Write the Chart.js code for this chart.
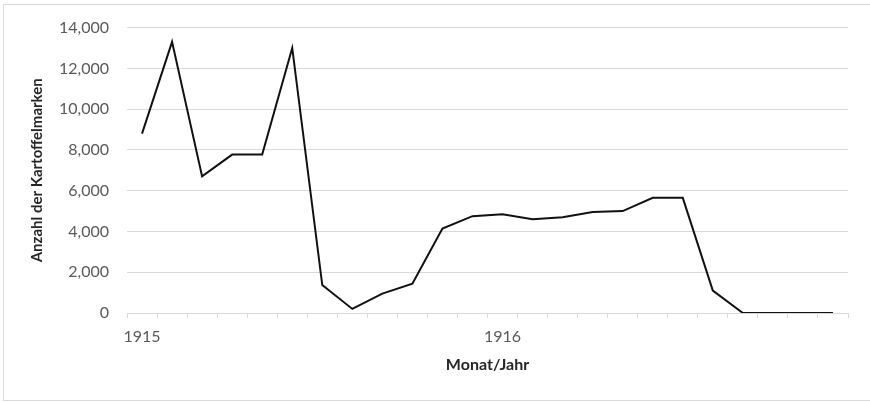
<!DOCTYPE html>
<html>
<head>
<meta charset="utf-8">
<script src="https://cdn.jsdelivr.net/npm/chart.js@4/dist/chart.umd.min.js"></script>
<style>
  html, body { margin: 0; padding: 0; background: #ffffff; }
  #wrap { position: relative; width: 870px; height: 402px; }
</style>
</head>
<body>
<div id="wrap"><canvas id="chart" width="870" height="402"></canvas></div>
<script>
// Monthly counts, Jan 1915 - Dec 1916
const months = [
    '1915-01', '1915-02', '1915-03', '1915-04', '1915-05', '1915-06',
    '1915-07', '1915-08', '1915-09', '1915-10', '1915-11', '1915-12',
    '1916-01', '1916-02', '1916-03', '1916-04', '1916-05', '1916-06',
    '1916-07', '1916-08', '1916-09', '1916-10', '1916-11', '1916-12'
];
const kartoffelmarken = [
    8800, 13300, 6700, 7770, 7780, 13000,
    1370, 200, 950, 1440, 4140, 4750,
    4840, 4600, 4700, 4950, 5000, 5650,
    5650, 1100, 0, 0, 0, 0
];
// only the first month of each year gets a label
const yearLabels = { 0: '1915', 12: '1916' };
const yTicks = [0, 2000, 4000, 6000, 8000, 10000, 12000, 14000];

const FONT = "Lato, 'Open Sans', sans-serif";
const gridColor = '#d9d9d9';
const textColor = '#595959';

// light frame around the whole chart
const framePlugin = {
    id: 'frame',
    beforeDraw(chart) {
        const ctx = chart.ctx;
        ctx.save();
        ctx.fillStyle = '#ffffff';
        ctx.fillRect(0, 0, chart.width, chart.height);
        ctx.strokeStyle = gridColor;
        ctx.lineWidth = 1;
        ctx.strokeRect(3.5, 4.5, 870, 396);
        ctx.restore();
    }
};

new Chart(document.getElementById('chart'), {
    type: 'line',
    data: {
        labels: months,
        datasets: [{
            data: kartoffelmarken,
            borderColor: '#111111',
            borderWidth: 2,
            pointRadius: 0,
            tension: 0,
            fill: false
        }]
    },
    options: {
        responsive: false,
        animation: false,
        layout: { padding: { left: 0, right: 22, top: 20, bottom: 0 } },
        plugins: {
            legend: { display: false },
            tooltip: { enabled: false }
        },
        scales: {
            x: {
                type: 'category',
                offset: true,
                afterFit(scale) { scale.height = 89; },
                grid: {
                    offset: true,
                    drawOnChartArea: false,
                    drawTicks: true,
                    tickLength: 5,
                    color: gridColor
                },
                border: { display: true, color: gridColor, width: 1 },
                ticks: {
                    autoSkip: false,
                    maxRotation: 0,
                    padding: 9,
                    color: textColor,
                    font: { family: FONT, size: 16 },
                    callback: (val, i) => yearLabels[i] || ''
                },
                title: {
                    display: true,
                    text: 'Monat/Jahr',
                    color: '#262626',
                    font: { family: FONT, size: 16, weight: 'bold' },
                    padding: { top: 0, bottom: 28 }
                }
            },
            y: {
                min: 0,
                max: 14000,
                afterFit(scale) { scale.width = 127; },
                afterBuildTicks(scale) { scale.ticks = yTicks.map(v => ({ value: v })); },
                grid: {
                    color: gridColor,
                    lineWidth: 1,
                    drawTicks: false
                },
                border: { display: false },
                ticks: {
                    padding: 18,
                    color: textColor,
                    font: { family: FONT, size: 16 },
                    callback: v => v.toLocaleString('en-US')
                },
                title: {
                    display: true,
                    text: 'Anzahl der Kartoffelmarken',
                    color: '#262626',
                    font: { family: FONT, size: 15, weight: 'bold' },
                    padding: { top: 28, bottom: 0 }
                }
            }
        }
    },
    plugins: [framePlugin]
});
</script>
</body>
</html>
